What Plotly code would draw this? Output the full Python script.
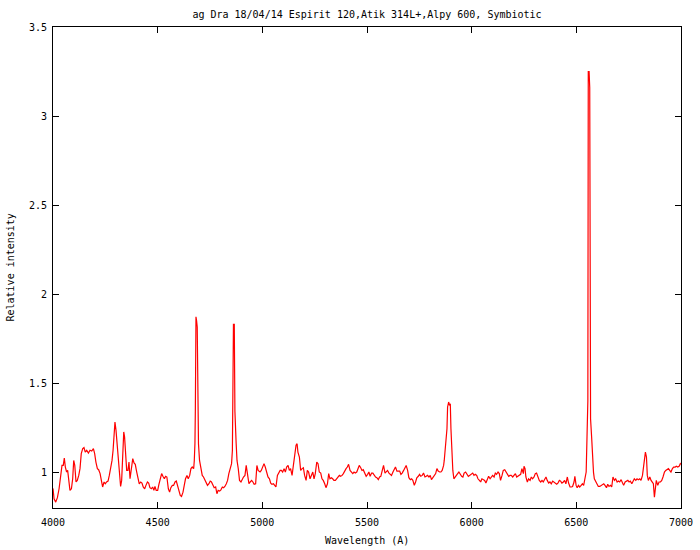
import plotly.graph_objects as go

TITLE = "ag Dra 18/04/14 Espirit 120,Atik 314L+,Alpy 600, Symbiotic"

# Segment 4000-4490 A
wl_a = [4000, 4005, 4013, 4021, 4029, 4037, 4043, 4049, 4054, 4059, 4065, 4070, 4075, 4081, 4088, 4094,
        4099, 4104, 4110, 4116, 4123, 4129, 4135, 4142, 4148, 4154, 4161, 4169, 4177, 4185, 4193, 4199,
        4205, 4212, 4218, 4225, 4231, 4237, 4244, 4250, 4256, 4263, 4269, 4275, 4282, 4287, 4291, 4296,
        4301, 4306, 4311, 4317, 4323, 4328, 4333, 4338, 4342, 4347, 4352, 4358, 4363, 4368, 4374, 4381,
        4387, 4393, 4400, 4406, 4412, 4419, 4425, 4431, 4438, 4444, 4451, 4457, 4463, 4470, 4476, 4482]
fl_a = [0.910, 0.852, 0.833, 0.858, 0.908, 0.993, 1.039, 1.039, 1.080, 1.030, 1.002, 1.011, 0.946, 0.899, 0.908, 0.964,
        1.067, 1.039, 0.946, 0.955, 0.983, 1.021, 1.105, 1.133, 1.139, 1.114, 1.124, 1.108, 1.124, 1.120, 1.133, 1.105,
        1.058, 1.021, 1.015, 0.993, 0.955, 0.918, 0.946, 0.936, 0.946, 0.951, 0.983, 1.021, 1.067, 1.124, 1.217, 1.283,
        1.236, 1.161, 1.067, 0.974, 0.921, 0.955, 1.067, 1.227, 1.198, 1.105, 1.011, 1.011, 1.058, 0.964, 1.011, 1.077,
        1.053, 1.045, 1.002, 0.974, 0.936, 0.946, 0.940, 0.918, 0.908, 0.927, 0.946, 0.940, 0.914, 0.908, 0.918, 0.899]

# Segment 4487-4980 A (He II 4686, H-beta)
wl_b = [4487, 4493, 4500, 4506, 4512, 4519, 4525, 4532, 4538, 4544, 4551, 4557, 4563, 4570, 4576, 4583,
        4589, 4595, 4602, 4608, 4614, 4621, 4627, 4633, 4640, 4646, 4653, 4659, 4665, 4672, 4675, 4678,
        4680, 4683, 4686, 4689, 4692, 4695, 4700, 4707, 4713, 4719, 4726, 4732, 4738, 4745, 4751, 4757,
        4764, 4770, 4777, 4783, 4789, 4796, 4802, 4809, 4815, 4821, 4828, 4834, 4840, 4847, 4853, 4857,
        4859, 4862, 4866, 4869, 4875, 4879, 4885, 4891, 4898, 4904, 4910, 4917, 4923, 4930, 4936, 4942,
        4949, 4955, 4961, 4968, 4974, 4980]
fl_b = [0.921, 0.899, 0.899, 0.933, 0.964, 0.993, 0.978, 0.964, 0.978, 0.974, 0.908, 0.889, 0.914, 0.927, 0.927, 0.946,
        0.951, 0.927, 0.889, 0.871, 0.865, 0.889, 0.927, 0.964, 0.983, 0.964, 0.983, 1.021, 1.030, 1.021, 1.067, 1.161,
        1.350, 1.873, 1.850, 1.816, 1.410, 1.160, 1.067, 1.021, 0.983, 0.974, 0.955, 0.940, 0.927, 0.936, 0.951, 0.946,
        0.927, 0.914, 0.918, 0.880, 0.899, 0.895, 0.902, 0.918, 0.914, 0.921, 0.936, 0.955, 0.993, 1.021, 1.049, 1.124,
        1.540, 1.831, 1.831, 1.343, 1.161, 1.067, 1.021, 0.955, 0.946, 0.964, 0.974, 0.983, 1.039, 0.983, 0.936, 0.946,
        0.955, 0.946, 0.933, 0.936, 1.039, 1.011]

# Segment 4989-5489 A
wl_c = [4989, 4995, 5002, 5008, 5014, 5021, 5027, 5034, 5040, 5046, 5053, 5059, 5065, 5072, 5078, 5085,
        5091, 5097, 5104, 5110, 5116, 5123, 5129, 5135, 5142, 5148, 5155, 5161, 5166, 5170, 5177, 5183,
        5190, 5196, 5202, 5209, 5215, 5221, 5228, 5234, 5241, 5247, 5253, 5260, 5266, 5272, 5279, 5285,
        5291, 5298, 5304, 5311, 5317, 5323, 5330, 5336, 5342, 5349, 5355, 5362, 5368, 5374, 5381, 5387,
        5393, 5400, 5406, 5412, 5419, 5425, 5432, 5438, 5444, 5451, 5457, 5463, 5470, 5476, 5482, 5489]
fl_c = [1.002, 1.011, 1.039, 1.049, 1.030, 1.002, 0.974, 0.964, 0.940, 0.933, 0.936, 0.927, 0.918, 0.983, 0.993, 1.011,
        1.011, 1.002, 1.021, 1.002, 1.030, 1.039, 1.011, 1.021, 0.983, 1.030, 1.086, 1.152, 1.161, 1.114, 1.086, 1.011,
        1.021, 1.026, 0.983, 0.955, 1.011, 1.002, 0.964, 0.983, 1.002, 0.964, 0.993, 1.058, 1.049, 1.002, 0.996, 0.964,
        0.955, 0.936, 0.914, 0.936, 0.993, 0.964, 0.970, 0.964, 0.955, 0.955, 0.964, 0.974, 0.983, 0.978, 0.983, 0.993,
        1.011, 1.021, 1.030, 1.045, 1.011, 1.002, 0.993, 1.002, 0.996, 1.002, 1.021, 1.039, 1.026, 1.011, 1.015, 0.993]

# Segment 5496-5990 A (Na D)
wl_d = [5496, 5503, 5509, 5515, 5522, 5528, 5535, 5541, 5547, 5554, 5560, 5566, 5573, 5579, 5586, 5592,
        5598, 5605, 5611, 5617, 5624, 5630, 5636, 5643, 5649, 5656, 5662, 5668, 5675, 5681, 5687, 5694,
        5700, 5707, 5713, 5719, 5726, 5732, 5738, 5745, 5751, 5757, 5764, 5770, 5777, 5783, 5789, 5796,
        5802, 5808, 5815, 5821, 5828, 5834, 5840, 5847, 5853, 5859, 5866, 5869, 5874, 5878, 5882, 5885,
        5890, 5894, 5898, 5901, 5906, 5910, 5915, 5920, 5926, 5933, 5939, 5945, 5952, 5958, 5964, 5971,
        5977, 5984, 5990]
fl_d = [0.978, 0.989, 1.002, 0.978, 0.996, 0.996, 0.983, 0.974, 0.970, 0.959, 0.974, 0.978, 1.011, 1.039, 0.996, 1.002,
        1.011, 0.996, 0.989, 0.983, 1.002, 1.021, 1.030, 1.007, 1.007, 1.007, 0.989, 0.996, 1.011, 1.026, 1.039, 1.011,
        0.970, 0.959, 0.964, 0.955, 0.927, 0.946, 0.970, 0.978, 0.989, 0.978, 0.983, 0.996, 0.974, 0.978, 0.983, 0.974,
        0.983, 0.959, 0.970, 0.983, 0.993, 1.021, 1.007, 1.002, 1.002, 1.011, 1.039, 1.067, 1.142, 1.170, 1.245, 1.367,
        1.395, 1.376, 1.385, 1.245, 1.096, 1.011, 0.964, 0.974, 0.983, 0.993, 1.002, 0.989, 0.978, 0.974, 0.996, 1.002,
        0.993, 0.978, 0.983]

# Segment 5998-6493 A
wl_e = [5998, 6005, 6011, 6017, 6024, 6030, 6037, 6043, 6049, 6056, 6062, 6068, 6075, 6081, 6088, 6094,
        6100, 6107, 6113, 6119, 6126, 6132, 6138, 6145, 6151, 6158, 6164, 6170, 6177, 6183, 6189, 6196,
        6202, 6209, 6215, 6221, 6228, 6234, 6240, 6247, 6250, 6255, 6259, 6266, 6272, 6279, 6285, 6291,
        6298, 6304, 6310, 6317, 6323, 6330, 6336, 6342, 6349, 6355, 6361, 6368, 6374, 6380, 6387, 6393,
        6400, 6406, 6412, 6419, 6425, 6431, 6438, 6444, 6450, 6457, 6463, 6470, 6476, 6482, 6489, 6493]
fl_e = [0.989, 0.996, 0.983, 0.989, 0.983, 0.964, 0.955, 0.946, 0.964, 0.959, 0.955, 0.940, 0.964, 0.978, 0.964, 0.974,
        0.983, 0.974, 0.996, 0.989, 1.002, 0.993, 0.955, 0.983, 1.011, 1.015, 1.002, 0.989, 0.978, 0.983, 0.983, 0.974,
        0.983, 0.993, 0.974, 0.978, 0.983, 0.989, 1.021, 0.993, 1.034, 1.021, 0.974, 0.946, 0.964, 0.955, 0.974, 0.964,
        0.974, 0.993, 0.996, 0.974, 0.955, 0.946, 0.955, 0.946, 0.964, 0.974, 0.955, 0.940, 0.946, 0.936, 0.951, 0.946,
        0.940, 0.933, 0.940, 0.955, 0.951, 0.940, 0.946, 0.955, 0.936, 0.974, 0.940, 0.918, 0.918, 0.921, 0.946, 0.978]

# Segment 6499-7000 A (H-alpha)
wl_f = [6499, 6504, 6510, 6516, 6523, 6529, 6535, 6542, 6547, 6551, 6555, 6557, 6561, 6564, 6568, 6573,
        6577, 6582, 6586, 6593, 6599, 6605, 6612, 6618, 6625, 6631, 6637, 6644, 6650, 6656, 6663, 6669,
        6675, 6682, 6688, 6695, 6701, 6707, 6714, 6720, 6726, 6733, 6739, 6746, 6752, 6758, 6765, 6771,
        6777, 6784, 6790, 6796, 6803, 6809, 6816, 6820, 6825, 6830, 6835, 6839, 6844, 6851, 6857, 6863,
        6868, 6873, 6878, 6882, 6889, 6895, 6902, 6908, 6914, 6921, 6927, 6933, 6940, 6946, 6952, 6959,
        6965, 6972, 6978, 6984, 6991, 6997, 7000]
fl_f = [0.927, 0.914, 0.927, 0.918, 0.927, 0.936, 0.927, 0.964, 1.002, 1.200, 1.400, 3.250, 3.250, 3.160, 1.300, 1.200,
        1.067, 1.000, 0.964, 0.946, 0.933, 0.921, 0.921, 0.927, 0.933, 0.936, 0.927, 0.914, 0.933, 0.921, 0.927, 0.918,
        0.974, 0.955, 0.964, 0.946, 0.951, 0.946, 0.959, 0.936, 0.927, 0.946, 0.951, 0.955, 0.946, 0.951, 0.936, 0.951,
        0.964, 0.955, 0.964, 0.959, 0.964, 0.955, 0.983, 1.021, 1.086, 1.114, 1.086, 0.983, 0.955, 0.974, 0.955, 0.946,
        0.936, 0.861, 0.899, 0.955, 0.927, 0.946, 0.946, 0.955, 0.974, 1.002, 1.011, 1.015, 1.021, 1.011, 1.002, 1.021,
        1.030, 1.030, 1.034, 1.030, 1.034, 1.049, 1.045]

wavelength = wl_a + wl_b + wl_c + wl_d + wl_e + wl_f
intensity = fl_a + fl_b + fl_c + fl_d + fl_e + fl_f

FONT = "DejaVu Sans Mono"

fig = go.Figure()
fig.add_trace(go.Scatter(x=wavelength, y=intensity, mode="lines",
                         line=dict(color="#ff0000", width=1.2), showlegend=False,
                         hoverinfo="skip"))

axis_common = dict(showline=True, linecolor="black", linewidth=1, mirror="allticks",
                   ticks="inside", ticklen=6, tickwidth=1, tickcolor="black",
                   showgrid=False, zeroline=False, automargin=False,
                   tickfont=dict(family=FONT, size=10, color="black"))

fig.update_xaxes(range=[4000, 7000], tick0=4000, dtick=500, ticklabelstandoff=5, **axis_common)
fig.update_yaxes(range=[0.8, 3.5], tick0=1, dtick=0.5, tickmode="linear", ticklabelstandoff=3,
                 **axis_common)

fig.update_layout(
    template="none",
    width=700, height=550,
    autosize=False,
    margin=dict(l=53, r=19, t=27, b=42, pad=0),
    plot_bgcolor="white", paper_bgcolor="white",
    title=dict(text=TITLE, x=0.5 + (53 - 19) / 2 / 700, xanchor="center",
               y=1 - 14 / 550, yanchor="middle", yref="container",
               font=dict(family=FONT, size=10, color="black")),
    annotations=[
        dict(text="Wavelength (A)", xref="paper", yref="paper", x=0.5, y=(508 - 540) / 481,
             xanchor="center", yanchor="middle", showarrow=False,
             font=dict(family=FONT, size=10, color="black")),
        dict(text="Relative intensity", xref="paper", yref="paper", x=(10 - 53) / 628, y=0.5,
             xanchor="center", yanchor="middle", textangle=-90, showarrow=False,
             font=dict(family=FONT, size=10, color="black")),
    ],
)

fig.write_html("out.html", config={"displayModeBar": False, "responsive": False},
               post_script="document.body.style.margin='0';document.body.style.padding='0';")
